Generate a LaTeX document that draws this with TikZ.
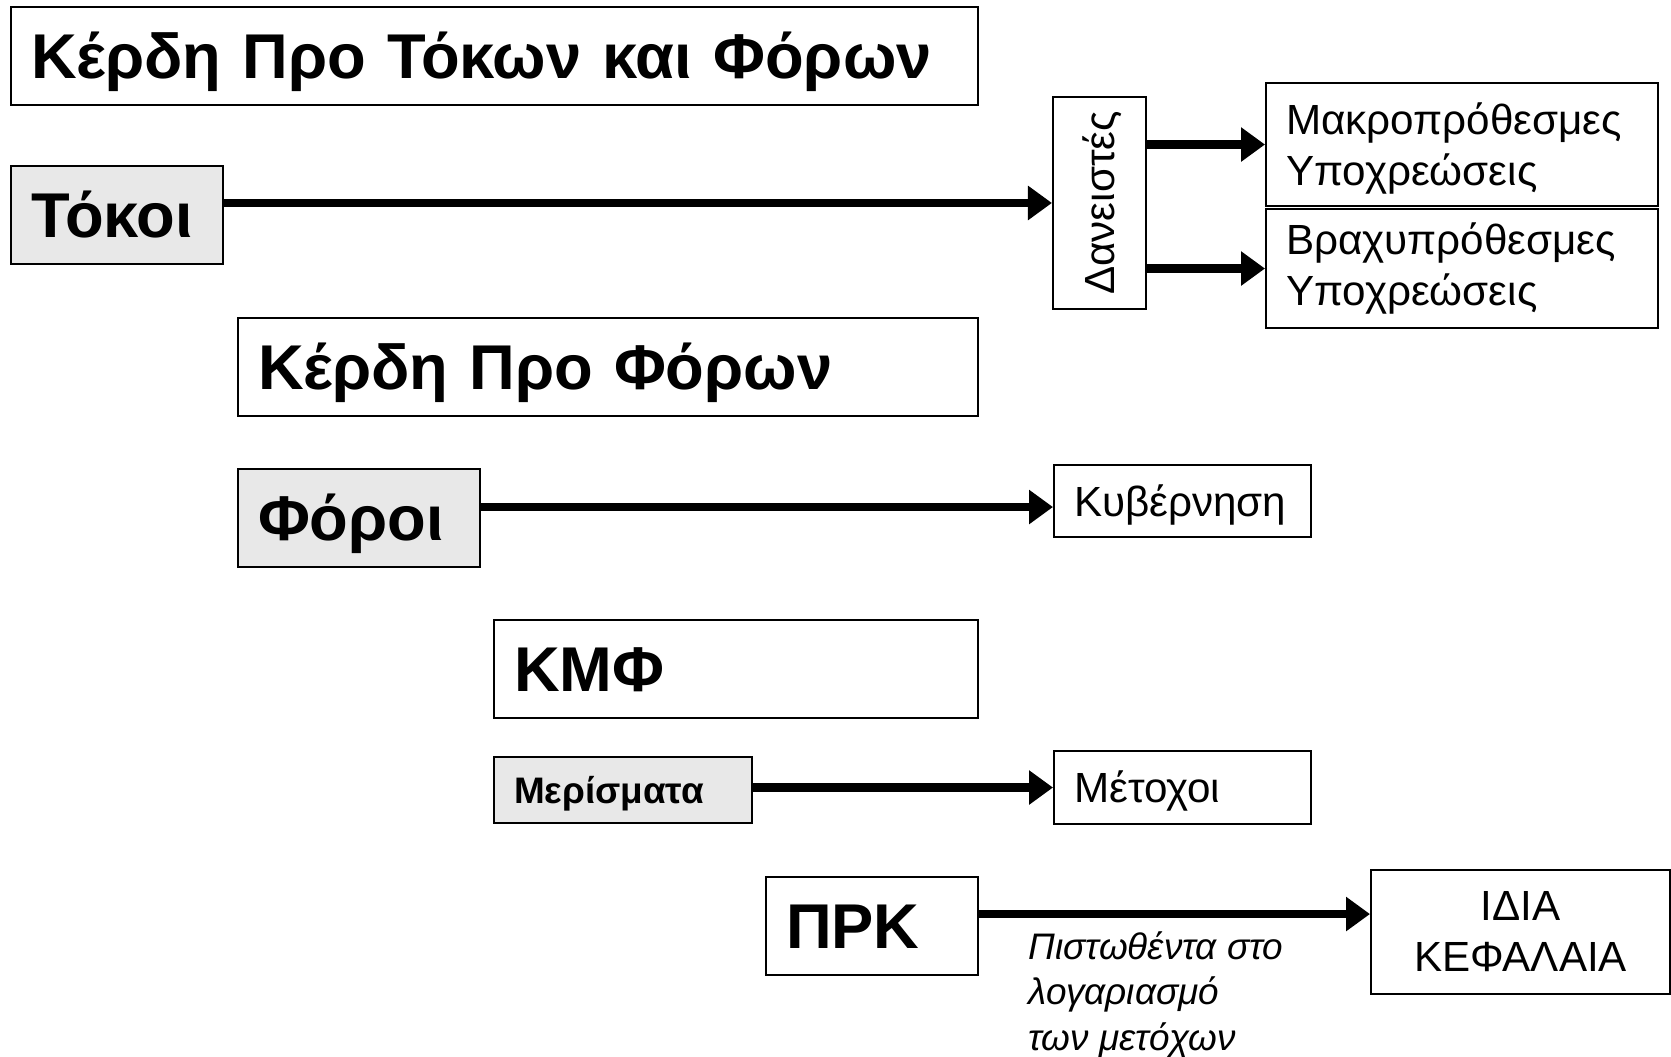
\documentclass[tikz,border=0pt]{standalone}
\usepackage{fontspec}
\setmainfont{Liberation Sans}
\usepackage{xcolor}
\usepackage{tikz}
\usetikzlibrary{arrows.meta}
\hyphenpenalty=10000
\exhyphenpenalty=10000
\definecolor{boxgray}{HTML}{E8E8E8}
\tikzset{
  box/.style={draw=black, line width=0.6pt, fill=white, anchor=north west,
    inner xsep=0.2cm, inner ysep=0pt, align=left},
  shaded/.style={box, fill=boxgray},
  bigtxt/.style={font=\fontsize{18}{21}\selectfont\bfseries, text height=12.9pt, text depth=0pt},
  midtxt/.style={font=\fontsize{10.5}{13}\selectfont\bfseries, text height=7.5pt, text depth=0pt},
  plaintxt/.style={font=\fontsize{12}{14.5}\selectfont},
  onetxt/.style={plaintxt, text height=8.6pt, text depth=0pt},
  notetxt/.style={font=\fontsize{10.5}{12.9}\selectfont\itshape},
  flow/.style={line width=2.4pt, -{Triangle[length=0.24cm, width=0.33cm]}}
}
\begin{document}
\begin{tikzpicture}
  \useasboundingbox (0,0) rectangle (16.71,10.57);

  % left column, each step shifted to the right
  \node[box, bigtxt, text width=9.27cm, minimum height=0.98cm] (kpft) at (0.10,10.51) {Κέρδη Προ Τόκων και Φόρων};
  \node[shaded, bigtxt, text width=1.72cm, minimum height=0.98cm] (tokoi) at (0.10,8.92) {Τόκοι};
  \node[box, bigtxt, text width=7.00cm, minimum height=0.98cm] (kpf) at (2.37,7.40) {Κέρδη Προ Φόρων};
  \node[shaded, bigtxt, text width=2.02cm, minimum height=0.98cm] (foroi) at (2.37,5.89) {Φόροι};
  \node[box, bigtxt, text width=4.44cm, minimum height=0.98cm] (kmf) at (4.93,4.38) {ΚΜΦ};
  \node[shaded, midtxt, text width=2.18cm, minimum height=0.66cm] (merismata) at (4.93,3.01) {Μερίσματα};
  \node[box, bigtxt, text width=1.72cm, minimum height=0.98cm] (prk) at (7.65,1.81) {ΠΡΚ};

  % receivers
  \node[box, onetxt, anchor=center, rotate=90, inner sep=0pt, align=center,
        minimum width=2.12cm, minimum height=0.93cm] (daneistes) at (10.995,8.54) {Δανειστές};
  \node[box, plaintxt, text depth=15pt, text width=3.52cm, minimum height=1.23cm] (makro) at (12.65,9.75) {Μακροπρόθεσμες\\Υποχρεώσεις};
  \node[box, plaintxt, text width=3.52cm, minimum height=1.19cm] (vrachy) at (12.65,8.49) {Βραχυπρόθεσμες\\Υποχρεώσεις};
  \node[box, onetxt, text width=2.17cm, minimum height=0.72cm] (kyvernisi) at (10.53,5.93) {Κυβέρνηση};
  \node[box, onetxt, text width=2.17cm, minimum height=0.73cm] (metochoi) at (10.53,3.07) {Μέτοχοι};
  \node[box, plaintxt, align=center, text width=2.59cm, minimum height=1.24cm] (idia) at (13.70,1.88) {ΙΔΙΑ\\ΚΕΦΑΛΑΙΑ};

  \node[notetxt, anchor=north west, inner sep=0pt, align=left] (note) at (10.28,1.26) {Πιστωθέντα στο\\λογαριασμό\\των μετόχων};

  % flows (daneistes is turned: its north is on the left)
  \draw[flow] (tokoi.east |- daneistes.center) -- (daneistes.north);
  \draw[flow] (daneistes.south |- makro.west) -- (makro.west);
  \draw[flow] (daneistes.south |- vrachy.west) -- (vrachy.west);
  \coordinate (taxin) at ([yshift=-0.06cm]kyvernisi.west);
  \draw[flow] (foroi.east |- taxin) -- (taxin);
  \draw[flow] (merismata.east |- metochoi.west) -- (metochoi.west);
  \coordinate (prkout) at ([yshift=0.12cm]prk.east);
  \draw[flow] (prkout) -- (prkout -| idia.west);
\end{tikzpicture}
\end{document}
